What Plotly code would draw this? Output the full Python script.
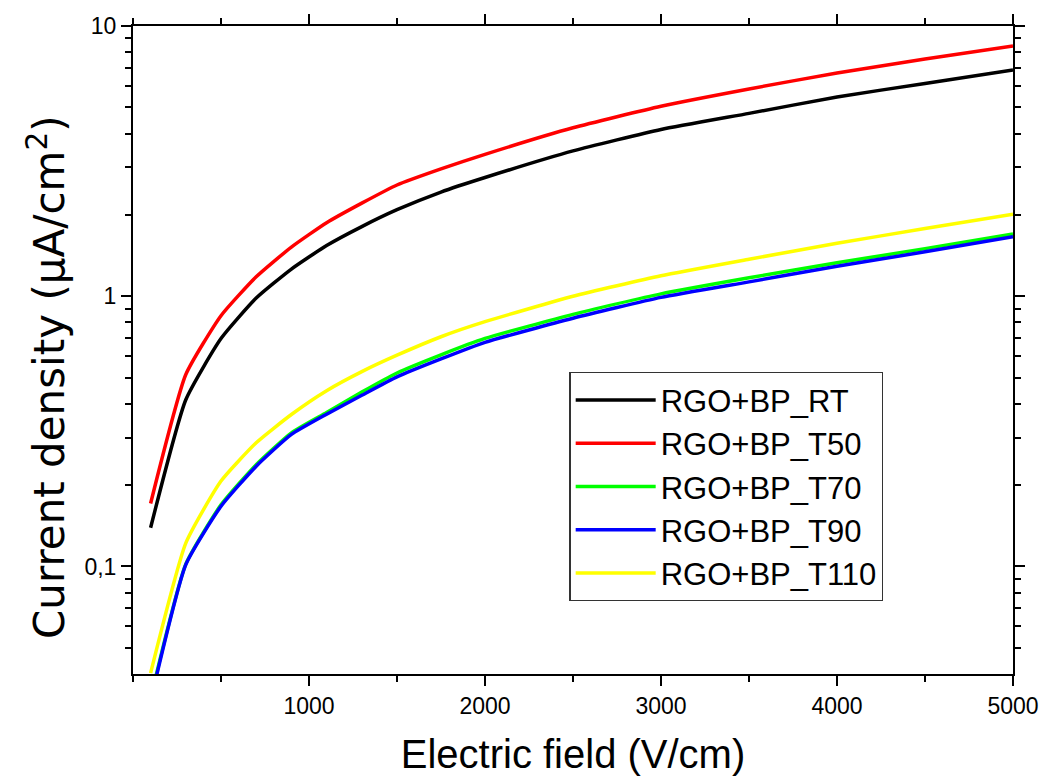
import plotly.graph_objects as go

field = [100, 300, 500, 700, 900, 1100, 1300, 1500, 1750, 2000, 2500, 3000, 3500, 4000, 4500, 5000]

j_rt = [0.139, 0.414, 0.697, 0.984, 1.26, 1.54, 1.81, 2.09, 2.43, 2.75, 3.45, 4.14, 4.75, 5.46, 6.13, 6.88]
j_t50 = [0.171, 0.513, 0.847, 1.18, 1.52, 1.87, 2.21, 2.58, 2.96, 3.35, 4.20, 5.05, 5.85, 6.70, 7.55, 8.44]
j_t70 = [0.0325, 0.102, 0.169, 0.238, 0.312, 0.371, 0.442, 0.520, 0.607, 0.698, 0.857, 1.02, 1.17, 1.33, 1.50, 1.70]
j_t90 = [0.0318, 0.1016, 0.167, 0.235, 0.308, 0.366, 0.430, 0.503, 0.586, 0.675, 0.829, 0.990, 1.13, 1.29, 1.46, 1.66]
j_t110 = [0.0403, 0.122, 0.207, 0.287, 0.365, 0.447, 0.526, 0.605, 0.708, 0.805, 1.00, 1.19, 1.37, 1.57, 1.78, 2.01]

names = ["RGO+BP_RT", "RGO+BP_T50", "RGO+BP_T70", "RGO+BP_T90", "RGO+BP_T110"]
colors = ["#000000", "#ff0000", "#00ff00", "#0000ff", "#ffff00"]
series = [j_rt, j_t50, j_t70, j_t90, j_t110]

x_ticks = [1000, 2000, 3000, 4000, 5000]
y_ticks = [0.1, 1, 10]
y_ticktext = ["0,1", "1", "10"]
y_minor = [0.05, 0.06, 0.07, 0.08, 0.09, 0.2, 0.3, 0.4, 0.5, 0.6, 0.7, 0.8, 0.9,
           2, 3, 4, 5, 6, 7, 8, 9]

FONT = "Liberation Sans, Arial, sans-serif"

fig = go.Figure()
for n, c, s in zip(names, colors, series):
    fig.add_trace(go.Scatter(x=field, y=s, mode="lines", name=n,
                             line=dict(color=c, width=3.5, shape="spline", smoothing=0.5)))

fig.update_layout(
    width=1046, height=782,
    margin=dict(l=133, r=33, t=26, b=108, autoexpand=False),
    plot_bgcolor="white", paper_bgcolor="white",
    font=dict(family=FONT, color="black"),
    showlegend=True,
    legend=dict(x=0.496, y=0.466, xanchor="left", yanchor="top",
                bordercolor="#333333", borderwidth=1.2, bgcolor="white",
                font=dict(size=31, family=FONT), itemwidth=80,
                tracegroupgap=0),
    annotations=[dict(
        text="Current density (μA/cm<sup>2</sup>)", textangle=-90,
        xref="paper", yref="paper", x=-0.098, y=0.458,
        xanchor="center", yanchor="middle", showarrow=False,
        font=dict(size=42, family="DejaVu Sans", color="black"),
    )],
)
fig.update_xaxes(
    range=[0, 5000], showline=True, linecolor="black", linewidth=2,
    mirror="allticks", ticks="outside", ticklen=10, tickwidth=2, tickcolor="black",
    tickvals=x_ticks, tickfont=dict(size=23), automargin=False,
    minor=dict(dtick=500, tick0=0, ticks="outside", ticklen=6, tickwidth=2, tickcolor="black"),
    showgrid=False, zeroline=False,
    title=dict(text="Electric field (V/cm)", font=dict(size=40), standoff=22),
)
fig.update_yaxes(
    type="log", range=[-1.398, 1.0], showline=True, linecolor="black", linewidth=2,
    mirror="allticks", ticks="outside", ticklen=10, tickwidth=2, tickcolor="black",
    tickvals=y_ticks, ticktext=y_ticktext, tickfont=dict(size=23), automargin=False,
    minor=dict(tickvals=y_minor, ticks="outside", ticklen=6, tickwidth=2, tickcolor="black"),
    showgrid=False, zeroline=False,
)

fig.write_html("out.html")
